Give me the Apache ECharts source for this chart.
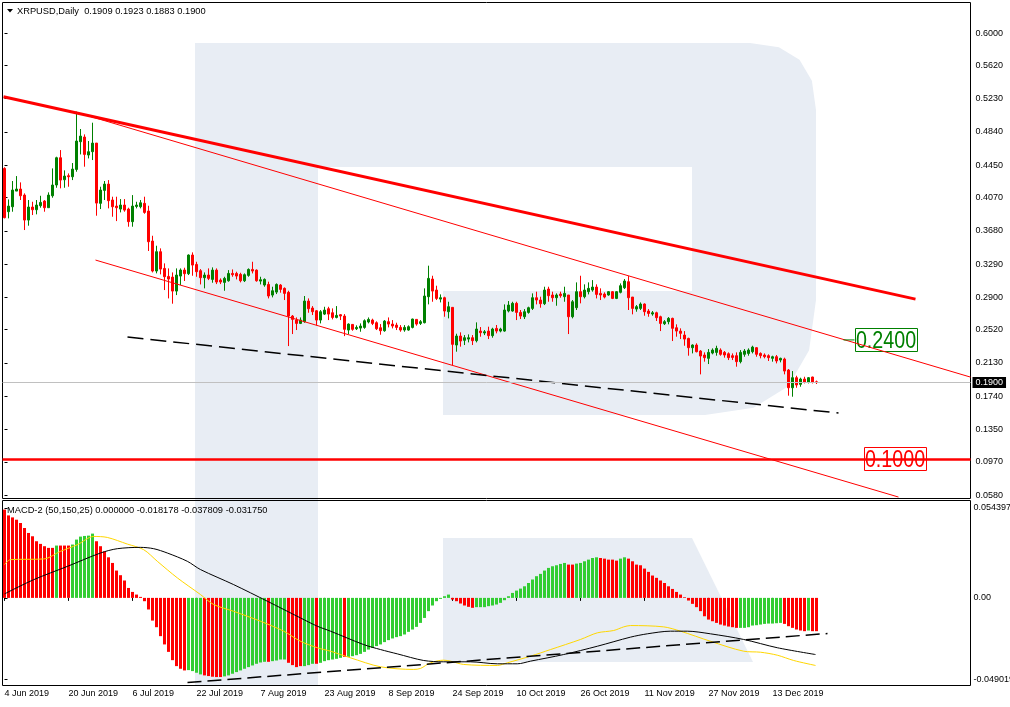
<!DOCTYPE html>
<html><head><meta charset="utf-8">
<script src="https://cdn.jsdelivr.net/npm/echarts@6/dist/echarts.min.js"></script>
<style>html,body{margin:0;padding:0;background:#fff}#c{width:1010px;height:707px}</style>
</head><body><div id="c"></div>
<script>
// ---------- data ----------
const symbolTitle = 'XRPUSD,Daily';
const macdTitle = 'MACD-2 (50,150,25) 0.000000 -0.018178 -0.037809 -0.031750';
const firstDate = [2019, 5, 4];     // 4 Jun 2019, daily bars
const emptySlots = 38;              // chart shift on the right
const tickLabels = ['4 Jun 2019','20 Jun 2019','6 Jul 2019','22 Jul 2019','7 Aug 2019','23 Aug 2019','8 Sep 2019','24 Sep 2019','10 Oct 2019','26 Oct 2019','11 Nov 2019','27 Nov 2019','13 Dec 2019'];
const tickEvery = 16;
const priceTicks = [0.6000,0.5620,0.5230,0.4840,0.4450,0.4070,0.3680,0.3290,0.2900,0.2520,0.2130,0.1740,0.1350,0.0970,0.0580];
const priceRange = [0.0540, 0.6358];
const macdTicks = [0.054397, 0, -0.049019];
const macdRange = [-0.0529, 0.0588];

const opens = [
.4412,.3904,.3962,.4146,.4170,.4099,.3806,.3959,.3927,.3974,
.4029,.3951,.4091,.4217,.4537,.4279,.4326,.4314,.4400,.4725,
.4780,.4569,.4608,.4709,.4002,.4154,.4228,.4041,.3970,.3935,
.3982,.3935,.3787,.3966,.3962,.4002,.3912,.3560,.3208,.3435,
.3239,.3145,.3137,.2973,.3149,.3220,.3177,.3396,.3286,.3212,
.3130,.3161,.3110,.3219,.3102,.3075,.3094,.3180,.3180,.3169,
.3094,.3157,.3227,.3219,.3090,.3044,.3051,.2926,.2961,.3044,
.3005,.2958,.2680,.2633,.2594,.2614,.2856,.2774,.2742,.2633,
.2703,.2766,.2719,.2664,.2696,.2680,.2516,.2582,.2531,.2539,
.2547,.2610,.2633,.2602,.2543,.2508,.2614,.2586,.2574,.2547,
.2516,.2516,.2547,.2641,.2594,.2602,.2907,.3114,.2985,.2879,
.2895,.2731,.2782,.2340,.2446,.2395,.2410,.2426,.2391,.2504,
.2481,.2504,.2450,.2535,.2504,.2504,.2739,.2739,.2829,.2723,
.2672,.2723,.2770,.2895,.2868,.2825,.2997,.2927,.2895,.2938,
.2907,.2927,.2672,.2778,.2966,.2907,.2966,.2985,.3020,.2946,
.2938,.2927,.2966,.2887,.2958,.3012,.3083,.2903,.2762,.2770,
.2821,.2739,.2704,.2719,.2672,.2590,.2614,.2653,.2543,.2504,
.2457,.2418,.2309,.2340,.2270,.2223,.2184,.2246,.2254,.2281,
.2254,.2238,.2215,.2215,.2145,.2231,.2242,.2262,.2309,.2242,
.2223,.2215,.2184,.2203,.2164,.2176,.2047,.1839,.1957,.1879,
.1941,.1902,.1965,.1909];
const highs = [
.4425,.4048,.4264,.4322,.4248,.4119,.4041,.4021,.4041,.4091,
.4041,.4131,.4412,.4549,.4627,.4389,.4353,.4475,.5077,.4874,
.4811,.4733,.4948,.4709,.4197,.4264,.4275,.4080,.4080,.4052,
.4052,.3951,.4099,.4021,.4041,.4080,.3974,.3622,.3505,.3474,
.3298,.3239,.3192,.3239,.3239,.3247,.3403,.3427,.3317,.3231,
.3192,.3239,.3251,.3239,.3122,.3141,.3219,.3227,.3200,.3188,
.3180,.3239,.3317,.3227,.3141,.3122,.3083,.3024,.3063,.3055,
.3016,.2977,.2692,.2664,.2664,.2915,.2887,.2797,.2750,.2750,
.2789,.2789,.2770,.2797,.2703,.2703,.2594,.2586,.2571,.2594,
.2641,.2664,.2649,.2618,.2586,.2633,.2664,.2633,.2602,.2574,
.2574,.2571,.2649,.2645,.2633,.3005,.3271,.3153,.3036,.2934,
.2907,.2848,.2782,.2473,.2489,.2457,.2465,.2457,.2606,.2551,
.2516,.2555,.2543,.2575,.2543,.2817,.2856,.2848,.2848,.2751,
.2762,.2790,.2946,.2966,.2907,.3024,.3024,.2966,.2946,.2966,
.3024,.2927,.2868,.3075,.3153,.3052,.3075,.3102,.3052,.3005,
.2958,.2973,.2973,.2973,.3063,.3114,.3149,.2903,.2809,.2840,
.2829,.2762,.2739,.2731,.2684,.2633,.2668,.2661,.2583,.2536,
.2504,.2426,.2348,.2360,.2281,.2254,.2293,.2301,.2332,.2301,
.2270,.2254,.2242,.2254,.2281,.2293,.2301,.2332,.2316,.2254,
.2242,.2231,.2215,.2223,.2192,.2192,.2059,.2035,.1980,.1957,
.1968,.1965,.1968,.1923];
const lows = [
.3826,.3826,.3904,.4146,.4041,.3689,.3740,.3865,.3873,.3951,
.3904,.3951,.4068,.4185,.4178,.4185,.4197,.4275,.4373,.4576,
.4432,.4529,.4510,.3857,.3935,.4041,.3943,.3845,.3794,.3896,
.3904,.3728,.3728,.3943,.3943,.3880,.3443,.3192,.3181,.3169,
.2985,.2887,.2825,.2926,.3044,.3091,.3161,.3153,.3141,.3051,
.3005,.3102,.3071,.3055,.3055,.2977,.3083,.3141,.3110,.3075,
.3079,.3141,.3180,.3083,.3051,.3024,.2887,.2899,.2938,.2954,
.2868,.2328,.2469,.2516,.2586,.2602,.2719,.2692,.2571,.2594,
.2692,.2633,.2641,.2653,.2633,.2445,.2469,.2508,.2516,.2496,
.2531,.2594,.2574,.2516,.2461,.2496,.2547,.2535,.2516,.2496,
.2496,.2508,.2535,.2567,.2575,.2594,.2817,.2848,.2868,.2840,
.2672,.2653,.2106,.2262,.2321,.2340,.2371,.2340,.2371,.2438,
.2457,.2410,.2426,.2477,.2489,.2496,.2723,.2731,.2633,.2645,
.2645,.2708,.2751,.2817,.2778,.2809,.2848,.2848,.2801,.2895,
.2848,.2469,.2653,.2751,.2829,.2887,.2934,.2966,.2887,.2868,
.2887,.2919,.2879,.2879,.2946,.2997,.2751,.2700,.2731,.2751,
.2684,.2672,.2684,.2622,.2504,.2575,.2583,.2387,.2438,.2410,
.2332,.2215,.2242,.2254,.1996,.2145,.2117,.2231,.2215,.2215,
.2192,.2164,.2164,.2086,.2125,.2203,.2215,.2242,.2203,.2184,
.2184,.2153,.2145,.2125,.2137,.1996,.1746,.1734,.1839,.1851,
.1890,.1890,.1890,.1883];
const closes = [
.3834,.3970,.4158,.4170,.4091,.3806,.3959,.3927,.3982,.4013,
.3951,.4099,.4217,.4537,.4275,.4322,.4314,.4404,.4733,.4791,
.4576,.4608,.4709,.4005,.4158,.4228,.4033,.3962,.3951,.3982,
.3923,.3787,.3970,.3982,.4009,.3896,.3552,.3208,.3435,.3231,
.3141,.3114,.2973,.3161,.3220,.3177,.3396,.3278,.3200,.3130,
.3161,.3122,.3219,.3079,.3079,.3122,.3180,.3165,.3149,.3094,
.3165,.3227,.3208,.3094,.3106,.3110,.2915,.2977,.3051,.2993,
.2946,.2680,.2641,.2594,.2633,.2856,.2766,.2731,.2633,.2731,
.2750,.2703,.2664,.2688,.2680,.2524,.2586,.2524,.2547,.2563,
.2625,.2641,.2594,.2531,.2508,.2621,.2586,.2563,.2547,.2516,
.2547,.2555,.2645,.2586,.2614,.2915,.3122,.2973,.2887,.2895,
.2739,.2790,.2348,.2446,.2387,.2426,.2426,.2391,.2528,.2485,
.2496,.2450,.2528,.2504,.2528,.2751,.2809,.2829,.2723,.2680,
.2731,.2778,.2895,.2868,.2825,.2985,.2919,.2895,.2927,.2919,
.2946,.2672,.2848,.2966,.2907,.2985,.3005,.3020,.2934,.2927,
.2903,.2966,.2887,.2966,.3036,.3091,.2895,.2770,.2790,.2821,
.2731,.2711,.2719,.2661,.2594,.2614,.2653,.2536,.2504,.2477,
.2410,.2309,.2340,.2262,.2211,.2192,.2254,.2281,.2301,.2231,
.2223,.2192,.2195,.2145,.2254,.2270,.2281,.2316,.2231,.2215,
.2203,.2192,.2203,.2153,.2184,.2035,.1839,.1957,.1871,.1941,
.1902,.1957,.1902,.1900];

const histValues = [
.0533,.0498,.0486,.0472,.0452,.0422,.0392,.0372,.0342,.0326,
.0312,.0302,.0302,.0316,.0316,.0316,.0316,.0322,.0352,.0370,
.0374,.0376,.0388,.0342,.0312,.0281,.0245,.0211,.0165,.0137,
.0105,.0060,.0036,.0020,.0006,-.0020,-.0070,-.0137,-.0177,-.0231,
-.0281,-.0326,-.0376,-.0412,-.0428,-.0438,-.0436,-.0442,-.0452,-.0462,
-.0468,-.0472,-.0476,-.0478,-.0478,-.0474,-.0468,-.0458,-.0448,-.0438,
-.0428,-.0418,-.0408,-.0398,-.0390,-.0386,-.0386,-.0382,-.0378,-.0372,
-.0372,-.0392,-.0406,-.0418,-.0412,-.0412,-.0406,-.0398,-.0398,-.0392,
-.0382,-.0376,-.0372,-.0368,-.0362,-.0356,-.0356,-.0352,-.0346,-.0338,
-.0326,-.0312,-.0302,-.0291,-.0281,-.0267,-.0255,-.0245,-.0237,-.0231,
-.0221,-.0205,-.0191,-.0175,-.0151,-.0121,-.0080,-.0046,-.0020,-.0006,
.0010,.0020,-.0010,-.0020,-.0034,-.0046,-.0054,-.0060,-.0056,-.0056,
-.0056,-.0050,-.0046,-.0040,-.0030,-.0014,.0010,.0030,.0044,.0056,
.0070,.0090,.0111,.0131,.0145,.0165,.0181,.0191,.0197,.0205,
.0211,.0201,.0201,.0207,.0211,.0221,.0231,.0241,.0245,.0241,
.0237,.0231,.0231,.0225,.0237,.0245,.0237,.0221,.0201,.0197,
.0177,.0157,.0135,.0121,.0105,.0090,.0070,.0054,.0036,.0020,
.0004,-.0016,-.0036,-.0056,-.0080,-.0111,-.0131,-.0141,-.0151,-.0161,
-.0167,-.0173,-.0177,-.0181,-.0181,-.0181,-.0177,-.0167,-.0165,-.0161,
-.0157,-.0155,-.0155,-.0153,-.0151,-.0157,-.0171,-.0181,-.0191,-.0197,
-.0201,-.0197,-.0201,-.0201];
const histColors =
'RRRRRRRRRR'+'RRRGRRRGGG'+'GGGRRRRRRR'+'RRRRRRRRRR'+'RRRRRRGGGG'+
'RRRRRGGGGG'+'GGGGGGRGGG'+'GRRRRGGGRG'+'GGGGGRGGGG'+'GGGGGGGGGG'+
'GGGGGGGGGG'+'GGRRRRRRGG'+'GGGGGGGGGG'+'GGGGGGGGGG'+'GRRGGGGGGR'+
'RRRRGGRRRR'+'RRRRRRRRRR'+'RRRRRRRRRR'+'RRRRGGGGGG'+'GGGGGRRRRR'+'RGRR';

// MACD lines: [bar index, value]
const signalLine = [[0,.0201],[1.5,.0231],[9.8,.0235],[14,.0281],[18.2,.0321],[22.3,.0371],[25.7,.0365],[30.7,.0325],[34.8,.0291],[38.2,.0221],[43.2,.0121],[49,.0020],[52.3,-.0040],[57.3,-.0081],[64,-.0141],[69.8,-.0201],[74,-.0262],[78.2,-.0301],[81.5,-.0322],[86.5,-.0362],[94,-.0416],[102.3,-.0432],[104,-.0426],[106.5,-.0392],[109.8,-.0376],[111.5,-.0382],[114.8,-.0402],[123.2,-.0408],[125.7,-.0392],[131.5,-.0352],[136.5,-.0312],[144,-.0251],[148.2,-.0211],[152.3,-.0197],[154.8,-.0175],[156.5,-.0167],[164.8,-.0175],[169,-.0201],[176.5,-.0262],[184.8,-.0322],[189,-.0328],[193.2,-.0346],[197.3,-.0378],[202.75,-.0408]];
const macdLine = [[0,.0024],[7.3,.0110],[15.7,.0190],[24,.0271],[28.2,.0297],[34,.0305],[37.3,.0297],[40.7,.0271],[45.7,.0221],[49,.0171],[57.3,.0080],[65.7,-.0020],[74,-.0121],[78.2,-.0171],[81.5,-.0201],[89.8,-.0282],[94,-.0312],[98.2,-.0338],[104.8,-.0378],[109.8,-.0386],[116.5,-.0386],[123.2,-.0398],[128.2,-.0398],[131.5,-.0382],[139.8,-.0342],[148.2,-.0292],[156.5,-.0237],[160.7,-.0217],[166.5,-.0201],[170.7,-.0201],[176.5,-.0217],[184.8,-.0251],[193.2,-.0301],[202.75,-.0342]];
const macdTrend = [[45.75,-.0511],[205.75,-.0215]];

// drawn objects on the price window: [bar index, price]
const resistanceLine = [[-0.25,.5253],[227.75,.2879]];
const channelTop = [[17.75,.5073],[241.5,.1964]];
const channelBottom = [[22.75,.3337],[223.5,.0557]];
const supportDashed = [[30.75,.2434],[208.5,.1542]];
const targetUp = 0.2400, targetUpAt = 220.25, targetUpStub = [209.75, 212.5];
const targetDown = 0.1000, targetDownAt = 222.5;
const lastPrice = 0.1900;

// ---------- chart ----------
const FONT = '"Liberation Sans", Arial, sans-serif';
const n = opens.length;
const slots = n + emptySlots;
const cats = [];
const t0 = Date.UTC(firstDate[0], firstDate[1], firstDate[2]);
for (let i = 0; i < slots; i++) cats.push(new Date(t0 + i * 86400000).toISOString().slice(0, 10));
const candles = opens.map((o, i) => [o, closes[i], lows[i], highs[i]]);
const hist = histValues.map((v, i) => ({ value: v, itemStyle: { color: histColors[i] === 'G' ? '#32cd32' : '#ff0000' } }));
const showTick = (idx) => idx % tickEvery === 0 && idx / tickEvery < tickLabels.length;

const chart = echarts.init(document.getElementById('c'), null, { renderer: 'canvas' });
const last = n - 1;
const header = symbolTitle + '  ' + [opens[last], highs[last], lows[last], closes[last]].map(v => v.toFixed(4)).join(' ');

// background logo (decoration, screen pixels)
const logoMain = [[195,43],[750,43],[778.9,47.2],[799.5,59.8],[811.9,80.7],[816,110],[816,300],[809.1,350.3],[788.3,386.3],[753.6,407.8],[705,415],[443,415],[443,291],[692,291],[692,167],[318,167],[318,686],[195,686]];
const logoLeg = [[443,538],[692,538],[753,662],[443,662]];

chart.setOption({
  animation: false,
  backgroundColor: '#ffffff',
  grid: [
    { left: 2.5, top: 2.5, width: 968, height: 496, show: true, borderColor: '#000', borderWidth: 1, backgroundColor: 'transparent', outerBoundsMode: 'none', containLabel: false },
    { left: 2.5, top: 500.5, width: 968, height: 185, show: true, borderColor: '#000', borderWidth: 1, backgroundColor: 'transparent', outerBoundsMode: 'none', containLabel: false }
  ],
  xAxis: [
    { type: 'category', gridIndex: 0, data: cats, boundaryGap: true, show: false },
    { type: 'category', gridIndex: 1, data: cats, boundaryGap: true,
      axisLine: { show: false },
      axisTick: { show: true, interval: showTick, alignWithLabel: true, length: 3, lineStyle: { color: '#000' } },
      axisLabel: { show: true, interval: showTick, formatter: (v, idx) => tickLabels[idx / tickEvery] || '', align: 'left', fontSize: 9, fontFamily: FONT, color: '#000', margin: 4 },
      splitLine: { show: false } },
    { type: 'value', gridIndex: 0, min: -0.5, max: slots - 0.5, show: false },
    { type: 'value', gridIndex: 1, min: -0.5, max: slots - 0.5, show: false }
  ],
  yAxis: [
    { type: 'value', gridIndex: 0, position: 'right', min: priceRange[0], max: priceRange[1],
      splitLine: { show: false }, axisLine: { show: false },
      axisTick: { show: true, length: 3, customValues: priceTicks, lineStyle: { color: '#000' } },
      axisLabel: { show: true, customValues: priceTicks, formatter: v => v.toFixed(4), fontSize: 9, fontFamily: FONT, color: '#000', margin: 5 } },
    { type: 'value', gridIndex: 1, position: 'right', min: macdRange[0], max: macdRange[1],
      splitLine: { show: false }, axisLine: { show: false },
      axisTick: { show: true, length: 3, customValues: macdTicks, lineStyle: { color: '#000' } },
      axisLabel: { show: true, customValues: macdTicks, formatter: v => (v === 0 ? '0.00' : v.toFixed(6)), fontSize: 9, fontFamily: FONT, color: '#000', margin: 3 } }
  ],
  series: [
    { type: 'candlestick', name: 'XRPUSD', xAxisIndex: 0, yAxisIndex: 0, data: candles, barWidth: 2, z: 3,
      itemStyle: { color: '#008000', color0: '#ff0000', borderColor: '#008000', borderColor0: '#ff0000', borderWidth: 1 },
      markLine: { silent: true, symbol: 'none', animation: false,
        data: [
          { yAxis: lastPrice, lineStyle: { color: '#c0c0c0', width: 1, type: 'solid' },
            label: { show: true, position: 'end', distance: 2, formatter: lastPrice.toFixed(4), backgroundColor: '#000', color: '#fff', fontSize: 9, fontFamily: FONT, padding: [1, 3, 0, 3], lineHeight: 10 } },
          { yAxis: targetDown, lineStyle: { color: '#ff0000', width: 2.5, type: 'solid' }, label: { show: false } }
        ] } },
    { type: 'line', name: 'resistance', xAxisIndex: 2, yAxisIndex: 0, data: resistanceLine, symbol: 'none', z: 4, lineStyle: { color: '#ff0000', width: 3 } },
    { type: 'line', name: 'channelTop', xAxisIndex: 2, yAxisIndex: 0, data: channelTop, symbol: 'none', z: 4, lineStyle: { color: '#ff0000', width: 1 } },
    { type: 'line', name: 'channelBottom', xAxisIndex: 2, yAxisIndex: 0, data: channelBottom, symbol: 'none', z: 4, lineStyle: { color: '#ff0000', width: 1 } },
    { type: 'line', name: 'support', xAxisIndex: 2, yAxisIndex: 0, data: supportDashed, symbol: 'none', z: 4, lineStyle: { color: '#000', width: 1.5, type: [16, 7] } },
    { type: 'line', name: 'stub', xAxisIndex: 2, yAxisIndex: 0, data: targetUpStub.map(x => [x, targetUp]), symbol: 'none', z: 4, lineStyle: { color: '#008000', width: 1 } },
    { type: 'bar', name: 'hist', xAxisIndex: 1, yAxisIndex: 1, data: hist, barWidth: 3, z: 3 },
    { type: 'line', name: 'signal', xAxisIndex: 3, yAxisIndex: 1, data: signalLine, symbol: 'none', smooth: 0.3, z: 4, lineStyle: { color: '#ffd700', width: 1 } },
    { type: 'line', name: 'macd', xAxisIndex: 3, yAxisIndex: 1, data: macdLine, symbol: 'none', smooth: 0.3, z: 4, lineStyle: { color: '#000', width: 1 } },
    { type: 'line', name: 'macdTrend', xAxisIndex: 3, yAxisIndex: 1, data: macdTrend, symbol: 'none', z: 4, lineStyle: { color: '#000', width: 1.5, type: [14, 6] } }
  ]
});

// level boxes placed through the chart's own scales
function levelBox(idx, price, color) {
  const p = chart.convertToPixel({ xAxisIndex: 2, yAxisIndex: 0 }, [idx, price]);
  return { type: 'group', z: 60, silent: true, x: Math.round(p[0]), y: Math.round(p[1]), children: [
    { type: 'rect', shape: { x: -30.5, y: -11.5, width: 62, height: 23 }, style: { fill: '#fff', stroke: color, lineWidth: 1 } },
    { type: 'text', scaleX: 0.82, y: 1, style: { text: price.toFixed(4), font: '24px ' + FONT, fill: color, align: 'center', verticalAlign: 'middle' } }
  ] };
}
chart.setOption({
  graphic: [
    { type: 'polygon', z: -10, silent: true, shape: { points: logoMain }, style: { fill: '#e8edf4' } },
    { type: 'polygon', z: -10, silent: true, shape: { points: logoLeg }, style: { fill: '#e8edf4' } },
    { type: 'polygon', z: 100, silent: true, shape: { points: [[7, 9], [13, 9], [10, 12.5]] }, style: { fill: '#000' } },
    { type: 'text', z: 100, silent: true, x: 17, y: 11, style: { text: header, font: '9.3px ' + FONT, fill: '#000', verticalAlign: 'middle' } },
    { type: 'text', z: 100, silent: true, x: 7, y: 510, style: { text: macdTitle, font: '9.3px ' + FONT, fill: '#000', verticalAlign: 'middle' } },
    levelBox(targetUpAt, targetUp, '#008000'),
    levelBox(targetDownAt, targetDown, '#ff0000')
  ]
});
</script>
</body></html>
